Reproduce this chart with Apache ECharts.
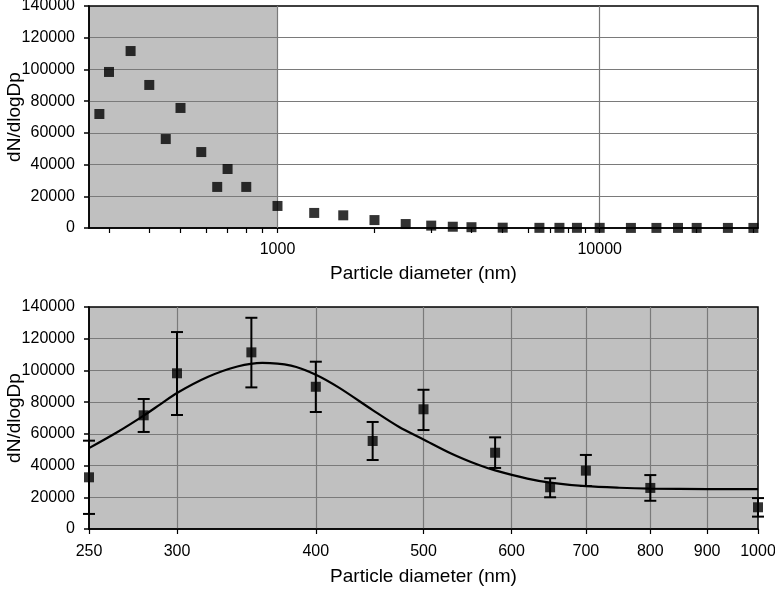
<!DOCTYPE html>
<html>
<head>
<meta charset="utf-8">
<script src="https://cdn.jsdelivr.net/npm/echarts@6/dist/echarts.min.js"></script>
<style>
html,body{margin:0;padding:0;background:#fff;}
#c{width:775px;height:595px;}
</style>
</head>
<body>
<div id="c"></div>
<script>
// ---------- data ----------
// Top panel: full size distribution (log x)
const topX = [280,300,350,400,450,500,580,650,700,800,1000,1300,1600,2000,2500,3000,3500,4000,5000,6500,7500,8500,10000,12500,15000,17500,20000,25000,30000];
const topY = [71900,98400,111600,90200,56100,75700,47900,25900,37200,25900,13900,9500,8000,5000,2500,1500,800,500,200,100,100,100,100,50,50,50,50,50,50];
const topXMin = 260;
const topXMax = 31000;
const topTickValues = [300,400,500,600,700,800,900,1000,2000,3000,4000,5000,6000,7000,8000,9000,10000,20000,30000];
const topLabelValues = [1000,10000];
const topGridX = [1000,10000];
const shadeRange = [260,1000];

// Bottom panel: 250-1000 nm with error bars and fitted curve
const botX  = [250,280,300,350,400,450,500,580,650,700,800,1000];
const botY  = [32600,71700,98200,111400,89700,55500,75500,48100,26300,36800,25900,13700];
const botHi = [55700,82000,124200,133200,105500,67500,87800,57800,32000,46700,34000,19500];
const botLo = [9500,61200,71900,89300,73800,43500,62400,38500,20000,27100,17800,7800];
const fitX = [250,265,280,290,300,320,340,358,380,400,420,450,475,500,530,560,580,620,650,700,750,800,900,1000];
const fitY = [51000,61000,71500,78800,85800,96000,102500,104800,103000,97300,89000,75000,64500,56500,47500,40500,37000,31800,29300,27000,26000,25500,25200,25100];
const botTickValues = [250,300,400,500,600,700,800,900,1000];

const yMin = 0, yMax = 140000, yStep = 20000;
const xName = 'Particle diameter (nm)';
const yName = 'dN/dlogDp';

// ---------- chart ----------
const FONT = "'Liberation Sans', Arial, Helvetica, sans-serif";
const chart = echarts.init(document.getElementById('c'), null, {renderer:'canvas'});

const zip = (a,b) => a.map((v,i)=>[v,b[i]]);

function yAxisCfg(gi){
  return {
    type:'value', gridIndex:gi, min:yMin, max:yMax, interval:yStep,
    name:yName, nameLocation:'middle', nameGap:65, nameRotate:90, nameMoveOverlap:false,
    nameTextStyle:{fontFamily:FONT,fontSize:19,color:'#000'},
    axisLine:{show:true,lineStyle:{color:'#000',width:1.5}},
    axisTick:{show:true,length:5,lineStyle:{color:'#000',width:1.5}},
    axisLabel:{fontFamily:FONT,fontSize:16,color:'#000',margin:14,formatter:v=>String(v)},
    splitLine:{show:true,showMinLine:false,showMaxLine:false,lineStyle:{color:'#7a7a7a',width:1.2}}
  };
}

const option = {
  animation:false,
  backgroundColor:'#fff',
  grid:[
    {left:89,right:17,top:6,height:222,containLabel:false,outerBoundsMode:'none',show:true,backgroundColor:'transparent',borderColor:'#000',borderWidth:1.5},
    {left:89,right:17,top:307,height:222,containLabel:false,outerBoundsMode:'none',show:true,backgroundColor:'#c0c0c0',borderColor:'#000',borderWidth:1.5}
  ],
  xAxis:[
    {
      type:'log', gridIndex:0, min:topXMin, max:topXMax, logBase:10,
      name:xName, nameLocation:'middle', nameGap:36, nameMoveOverlap:false,
      nameTextStyle:{fontFamily:FONT,fontSize:19,color:'#000'},
      axisLine:{show:true,onZero:false,lineStyle:{color:'#000',width:1.5}},
      axisTick:{show:true,length:5,customValues:topTickValues,lineStyle:{color:'#000',width:1.2}},
      axisLabel:{fontFamily:FONT,fontSize:16,color:'#000',margin:14,customValues:topLabelValues,
        formatter:v=>String(Math.round(v))},
      splitLine:{show:false},
      minorTick:{show:false}
    },
    {
      type:'log', gridIndex:1, min:botTickValues[0], max:botTickValues[botTickValues.length-1], logBase:10,
      name:xName, nameLocation:'middle', nameGap:38, nameMoveOverlap:false,
      nameTextStyle:{fontFamily:FONT,fontSize:19,color:'#000'},
      axisLine:{show:true,onZero:false,lineStyle:{color:'#000',width:1.5}},
      axisTick:{show:true,length:5,customValues:botTickValues,lineStyle:{color:'#000',width:1.2}},
      axisLabel:{fontFamily:FONT,fontSize:16,color:'#000',margin:15,customValues:botTickValues,
        formatter:v=>String(Math.round(v))},
      splitLine:{show:true,showMinLine:false,showMaxLine:false,lineStyle:{color:'#7a7a7a',width:1.2}}
    }
  ],
  yAxis:[ yAxisCfg(0), yAxisCfg(1) ],
  series:[
    // shading of the < 1000 nm region, top panel
    {
      type:'scatter', xAxisIndex:0, yAxisIndex:0, data:zip(topX,topY), symbolSize:0, silent:true, z:1,
      markArea:{silent:true, z:-1, itemStyle:{color:'#c0c0c0'},
        data:[[{xAxis:shadeRange[0]},{xAxis:shadeRange[1]}]]},
      markLine:{silent:true, z:1, symbol:'none', label:{show:false},
        lineStyle:{color:'#7a7a7a',width:1.2,type:'solid'},
        data:topGridX.map(v=>({xAxis:v}))}
    },
    {
      type:'scatter', xAxisIndex:0, yAxisIndex:0, data:zip(topX,topY),
      symbol:'rect', symbolSize:10, itemStyle:{color:'#000'}, clip:false, z:3
    },
    // error bars
    {
      type:'custom', xAxisIndex:1, yAxisIndex:1, clip:false, z:2,
      data:botX.map((x,i)=>[x,botLo[i],botHi[i]]),
      encode:{x:0,y:[1,2]},
      renderItem:(params,api)=>{
        const x=api.value(0), lo=api.value(1), hi=api.value(2);
        const a=api.coord([x,lo]), b=api.coord([x,hi]);
        const w=6, st={stroke:'#000',lineWidth:2};
        return {type:'group',children:[
          {type:'line',shape:{x1:a[0],y1:a[1],x2:b[0],y2:b[1]},style:st},
          {type:'line',shape:{x1:a[0]-w,y1:a[1],x2:a[0]+w,y2:a[1]},style:st},
          {type:'line',shape:{x1:b[0]-w,y1:b[1],x2:b[0]+w,y2:b[1]},style:st}
        ]};
      }
    },
    // fitted curve
    {
      type:'line', xAxisIndex:1, yAxisIndex:1, data:zip(fitX,fitY),
      smooth:0.3, showSymbol:false, symbol:'none',
      lineStyle:{color:'#000',width:2.2}, z:3
    },
    {
      type:'scatter', xAxisIndex:1, yAxisIndex:1, data:zip(botX,botY),
      symbol:'rect', symbolSize:10, itemStyle:{color:'#000'}, clip:false, z:4
    }
  ]
};
chart.setOption(option);
</script>
</body>
</html>
